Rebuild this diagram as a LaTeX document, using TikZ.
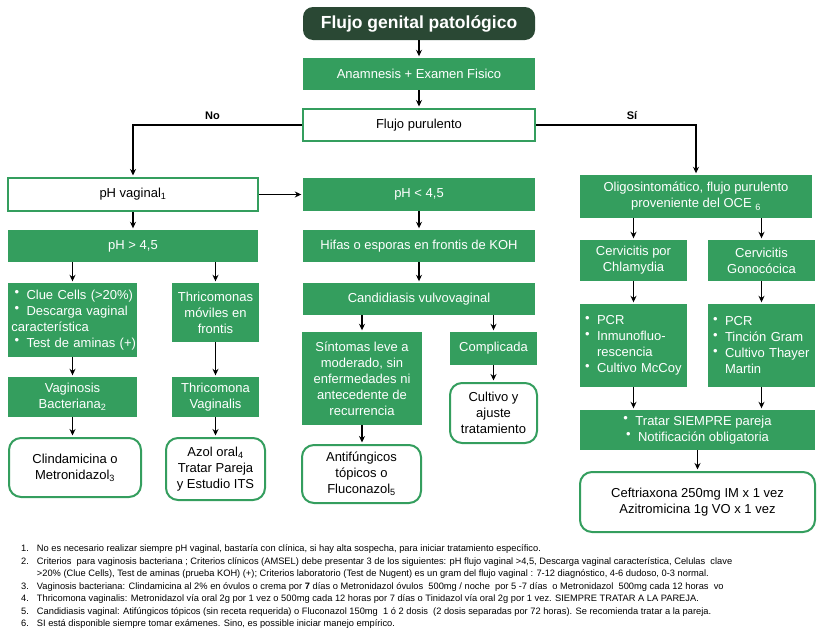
\documentclass[tikz,border=0pt]{standalone}
\usepackage{fontspec}
\setmainfont{Liberation Sans}
\usetikzlibrary{arrows.meta}

\definecolor{gverde}{RGB}{52,158,94}
\definecolor{goscuro}{RGB}{42,72,52}
\newcommand{\idx}[1]{\textsubscript{#1}}
\newcommand{\punto}{\makebox[12pt][l]{\raisebox{2.5pt}{\fontsize{13}{13}\selectfont\textbullet}}}

\begin{document}
\begin{tikzpicture}[x=1pt,y=-1pt,
 texto/.style={font=\fontsize{13}{16}\selectfont},
 verde/.style={texto,fill=gverde,text=white,align=center,inner sep=2pt},
 blanco/.style={texto,draw=gverde,line width=2pt,fill=white,align=center,inner sep=2pt},
 redondo/.style={blanco,rounded corners=12pt},
 flecha/.style={line width=1.6pt,->,>={Stealth[length=6.5pt,width=6pt]},shorten >=1.5pt}]
 \useasboundingbox (0,0) rectangle (819,632); %marco

 %fila superior
 \node[fill=goscuro,text=white,rounded corners=10pt,minimum width=232,minimum height=33,font=\fontsize{17.5}{20}\selectfont\bfseries] (titulo) at (419,23.5) {Flujo genital patológico};
 \node[verde,minimum width=232,minimum height=32] (anam) at (419,74) {Anamnesis + Examen Fisico};
 \node[blanco,minimum width=232,minimum height=32] (flujo) at (419,125) {Flujo purulento};
 \node[blanco,minimum width=250,minimum height=33] (phvag) at (133,194.5) {pH vaginal\idx{1}};
 \node[verde,minimum width=232,minimum height=33] (phmen) at (419,194.5) {pH < 4,5};
 \node[verde,minimum width=232,minimum height=43] (oligo) at (696,196.5) {Oligosintomático, flujo purulento\\proveniente del OCE \idx{6}};

 %columna izquierda
 \node[verde,minimum width=250,minimum height=32] (phmay) at (133,246) {pH > 4,5};
 \node[verde,inner xsep=0pt,text width=129,align=left,minimum height=74] (clue) at (72.5,320) {\hspace*{6.5pt}\punto Clue Cells (>20\%)\\\hspace*{6.5pt}\punto Descarga vaginal\\\hspace*{3.5pt}característica\\\hspace*{6.5pt}\punto Test de aminas (+)};
 \node[verde,minimum width=87,minimum height=59] (trimov) at (215.5,312.5) {Thricomonas\\móviles en\\frontis};
 \node[verde,minimum width=129,minimum height=40] (vagbac) at (72.5,397) {Vaginosis\\Bacteriana\idx{2}};
 \node[verde,minimum width=87,minimum height=40] (trivag) at (215.5,397) {Thricomona\\Vaginalis};
 \node[redondo,minimum width=132,minimum height=59] (clin) at (75,467.5) {Clindamicina o\\Metronidazol\idx{3}};
 \node[redondo,minimum width=99,minimum height=62] (azol) at (215.5,469) {Azol oral\idx{4}\\Tratar Pareja\\y Estudio ITS};

 %columna central
 \node[verde,minimum width=232,minimum height=32] (hifas) at (419,246) {Hifas o esporas en frontis de KOH};
 \node[verde,minimum width=232,minimum height=32] (candi) at (419,299) {Candidiasis vulvovaginal};
 \node[verde,minimum width=120,minimum height=93] (sint) at (362,378.5) {Síntomas leve a\\moderado, sin\\enfermedades ni\\antecedente de\\recurrencia};
 \node[verde,minimum width=87,minimum height=33] (compl) at (493.5,348.5) {Complicada};
 \node[redondo,minimum width=119,minimum height=58] (antif) at (361.5,474) {Antifúngicos\\tópicos o\\Fluconazol\idx{5}};
 \node[redondo,minimum width=87,minimum height=60] (cult) at (493.5,413) {Cultivo y\\ajuste\\tratamiento};

 %columna derecha
 \node[verde,minimum width=107,minimum height=41] (cervC) at (633.5,260.5) {Cervicitis por\\Chlamydia};
 \node[verde,minimum width=107,minimum height=41] (cervG) at (761.5,260.5) {Cervicitis\\Gonocócica};
 \node[verde,text width=103,align=left,minimum height=83] (pcrC) at (633.5,345.5) {\hspace*{3pt}\punto PCR\\\hspace*{3pt}\punto Inmunofluo-\\\hspace*{15pt}rescencia\\\hspace*{3pt}\punto Cultivo McCoy};
 \node[verde,text width=103,align=left,minimum height=83] (pcrG) at (761.5,345.5) {\hspace*{3pt}\punto PCR\\\hspace*{3pt}\punto Tinción Gram\\\hspace*{3pt}\punto Cultivo Thayer\\\hspace*{15pt}Martin};
 \node[verde,minimum width=235,minimum height=40] (tratar) at (697.5,430) {\punto Tratar SIEMPRE pareja\\\punto Notificación obligatoria};
 \node[redondo,minimum width=235,minimum height=60] (ceft) at (697.5,502) {Ceftriaxona 250mg IM x 1 vez\\Azitromicina 1g VO x 1 vez};

 %flechas
 \draw[flecha] (titulo) -- (anam);
 \draw[flecha] (anam) -- (flujo);
 \draw[flecha] (flujo.west) -| node[pos=0.265,above=1pt,font=\fontsize{11}{13}\selectfont\bfseries] {No} (phvag.north);
 \draw[flecha] (flujo.east) -| node[pos=0.3,above=1pt,font=\fontsize{11}{13}\selectfont\bfseries] {Sí} (oligo.north);
 \draw[flecha] (phvag.east) -- (phmen.west);
 \draw[flecha] (phvag) -- (phmay);
 \draw[flecha] (phmen) -- (hifas);
 \draw[flecha] (hifas) -- (candi);
 \draw[flecha] (phmay.south -| clue.north) -- (clue.north);
 \draw[flecha] (phmay.south -| trimov.north) -- (trimov.north);
 \draw[flecha] (clue) -- (vagbac);
 \draw[flecha] (trimov) -- (trivag);
 \draw[flecha] (vagbac.south) -- (vagbac.south |- clin.north);
 \draw[flecha] (trivag) -- (azol);
 \draw[flecha] (candi.south -| sint.north) -- (sint.north);
 \draw[flecha] (candi.south -| compl.north) -- (compl.north);
 \draw[flecha] (sint.south) -- (sint.south |- antif.north);
 \draw[flecha] (compl) -- (cult);
 \draw[flecha] (oligo.south -| cervC.north) -- (cervC.north);
 \draw[flecha] (oligo.south -| cervG.north) -- (cervG.north);
 \draw[flecha] (cervC) -- (pcrC);
 \draw[flecha] (cervG) -- (pcrG);
 \draw[flecha] (pcrC.south) -- (pcrC.south |- tratar.north);
 \draw[flecha] (pcrG.south) -- (pcrG.south |- tratar.north);
 \draw[flecha] (tratar) -- (ceft);

 %notas
 \node[anchor=north west,inner sep=0pt,font=\fontsize{9.3}{12.5}\selectfont] (notas) at (21,543) {%
 \begin{tabular}{@{}r@{\hspace{8pt}}l@{}}
 1. & No es necesario realizar siempre pH vaginal, bastaría con clínica, si hay alta sospecha, para iniciar tratamiento específico.\\
 2. & Criterios\ \ para vaginosis bacteriana ; Criterios clínicos (AMSEL) debe presentar 3 de los siguientes: pH flujo vaginal >4,5, Descarga vaginal característica, Celulas\ \ clave\\
 & >20\% (Clue Cells), Test de aminas (prueba KOH) (+); Criterios laboratorio (Test de Nugent) es un gram del flujo vaginal : 7-12 diagnóstico, 4-6 dudoso, 0-3 normal.\\
 3. & Vaginosis bacteriana: Clindamicina al 2\% en óvulos o crema por \textbf{7} días o Metronidazol óvulos\ \ 500mg / noche\ \ por 5 -7 días\ \ o Metronidazol\ \ 500mg cada 12 horas\ \ vo\\
 4. & Thricomona vaginalis: Metronidazol vía oral 2g por 1 vez o 500mg cada 12 horas por 7 días o Tinidazol vía oral 2g por 1 vez. SIEMPRE TRATAR A LA PAREJA.\\
 5. & Candidiasis vaginal: Atifúngicos tópicos (sin receta requerida) o Fluconazol 150mg\ \ 1 ó 2 dosis\ \ (2 dosis separadas por 72 horas). Se recomienda tratar a la pareja.\\
 6. & SI está disponible siempre tomar exámenes. Sino, es possible iniciar manejo empírico.
 \end{tabular}};
\end{tikzpicture}
\end{document}
